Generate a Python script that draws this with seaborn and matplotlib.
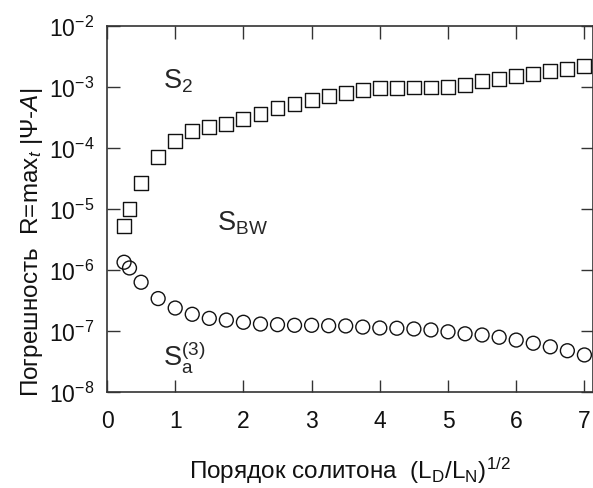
import numpy as np
import pandas as pd
import seaborn as sns
import matplotlib
matplotlib.use("Agg")
import matplotlib.pyplot as plt
from matplotlib.ticker import FixedLocator, FuncFormatter, NullLocator

# soliton order (L_D/L_N)^1/2
x_s2 = [0.25, 0.33, 0.5, 0.75, 1.0, 1.25, 1.5, 1.75, 2.0, 2.25, 2.5, 2.75, 3.0, 3.25, 3.5,
        3.75, 4.0, 4.25, 4.5, 4.75, 5.0, 5.25, 5.5, 5.75, 6.0, 6.25, 6.5, 6.75, 7.0]
err_s2 = [5.3e-6, 1.0e-5, 2.7e-5, 7.1e-5, 1.3e-4, 1.87e-4, 2.2e-4, 2.5e-4, 3.0e-4, 3.6e-4,
          4.5e-4, 5.3e-4, 6.2e-4, 7.2e-4, 7.9e-4, 8.9e-4, 9.5e-4, 9.6e-4, 9.8e-4, 9.8e-4,
          1.0e-3, 1.09e-3, 1.24e-3, 1.35e-3, 1.5e-3, 1.63e-3, 1.83e-3, 2.0e-3, 2.24e-3]
x_sa3 = x_s2
err_sa3 = [1.34e-6, 1.08e-6, 6.3e-7, 3.4e-7, 2.38e-7, 1.88e-7, 1.61e-7, 1.51e-7, 1.39e-7,
           1.30e-7, 1.27e-7, 1.24e-7, 1.24e-7, 1.22e-7, 1.21e-7, 1.16e-7, 1.12e-7, 1.11e-7,
           1.08e-7, 1.04e-7, 9.7e-8, 9.0e-8, 8.6e-8, 7.9e-8, 7.1e-8, 6.3e-8, 5.5e-8, 4.75e-8,
           4.05e-8]
xticks = [0, 1, 2, 3, 4, 5, 6, 7]
yexp = [-8, -7, -6, -5, -4, -3, -2]

sns.set_theme(style="ticks")
plt.rcParams["font.family"] = ["Liberation Sans", "DejaVu Sans"]
plt.rcParams["mathtext.fontset"] = "custom"
plt.rcParams["mathtext.rm"] = "Liberation Sans"
plt.rcParams["mathtext.it"] = "Liberation Sans:italic"
plt.rcParams["mathtext.bf"] = "Liberation Sans:bold"

fig = plt.figure(figsize=(5.93, 4.89), dpi=100)
ax = fig.add_axes([107 / 593, 1 - 393 / 489, 486 / 593, 366 / 489])

d1 = pd.DataFrame({"x": x_s2, "y": err_s2})
d2 = pd.DataFrame({"x": x_sa3, "y": err_sa3})
sns.scatterplot(data=d1, x="x", y="y", marker="s", s=100, facecolors="none",
                edgecolors="#111111", linewidth=1.0, ax=ax, zorder=3)
sns.scatterplot(data=d2, x="x", y="y", marker="o", s=100, facecolors="none",
                edgecolors="#111111", linewidth=1.0, ax=ax, zorder=3)

ax.set_yscale("log")
ax.set_xlim(0, 7.126)
ax.set_ylim(1e-8, 1e-2)
ax.xaxis.set_major_locator(FixedLocator(xticks))
ax.yaxis.set_major_locator(FixedLocator([10.0 ** e for e in yexp]))
ax.yaxis.set_minor_locator(NullLocator())
ax.yaxis.set_major_formatter(FuncFormatter(lambda v, p: r"10$^{%d}$" % round(np.log10(v))))

ax.tick_params(which="major", direction="in", length=9, width=1.0, color="#333333",
               top=True, right=True, labelsize=16.5, labelcolor="#111111")
ax.tick_params(axis="x", pad=12)
ax.tick_params(axis="y", pad=9)
for sp in ax.spines.values():
    sp.set_linewidth(1.2)
    sp.set_color("#333333")

ax.set_xlabel(r"Порядок солитона  (L$_{\rm D}$/L$_{\rm N}$)$^{\rm 1/2}$", fontsize=17.5, color="#111111")
ax.set_ylabel(r"Погрешность  R=max$_{t}$ |Ψ-$A$|", fontsize=17.5, color="#111111")
ax.xaxis.set_label_coords(0.50, -0.172)
ax.yaxis.set_label_coords(-0.127, 0.412)

ax.text(0.816, 9.9e-4, r"S$_{\rm 2}$", fontsize=19.5, ha="left", va="baseline")
ax.text(1.617, 4.7e-6, r"S$_{\rm BW}$", fontsize=19.5, ha="left", va="baseline")
ax.text(0.826, 2.7e-8, r"S$_{\rm a}^{\rm (3)}$", fontsize=19.5, ha="left", va="baseline")

fig.savefig("out.png", dpi=100)
